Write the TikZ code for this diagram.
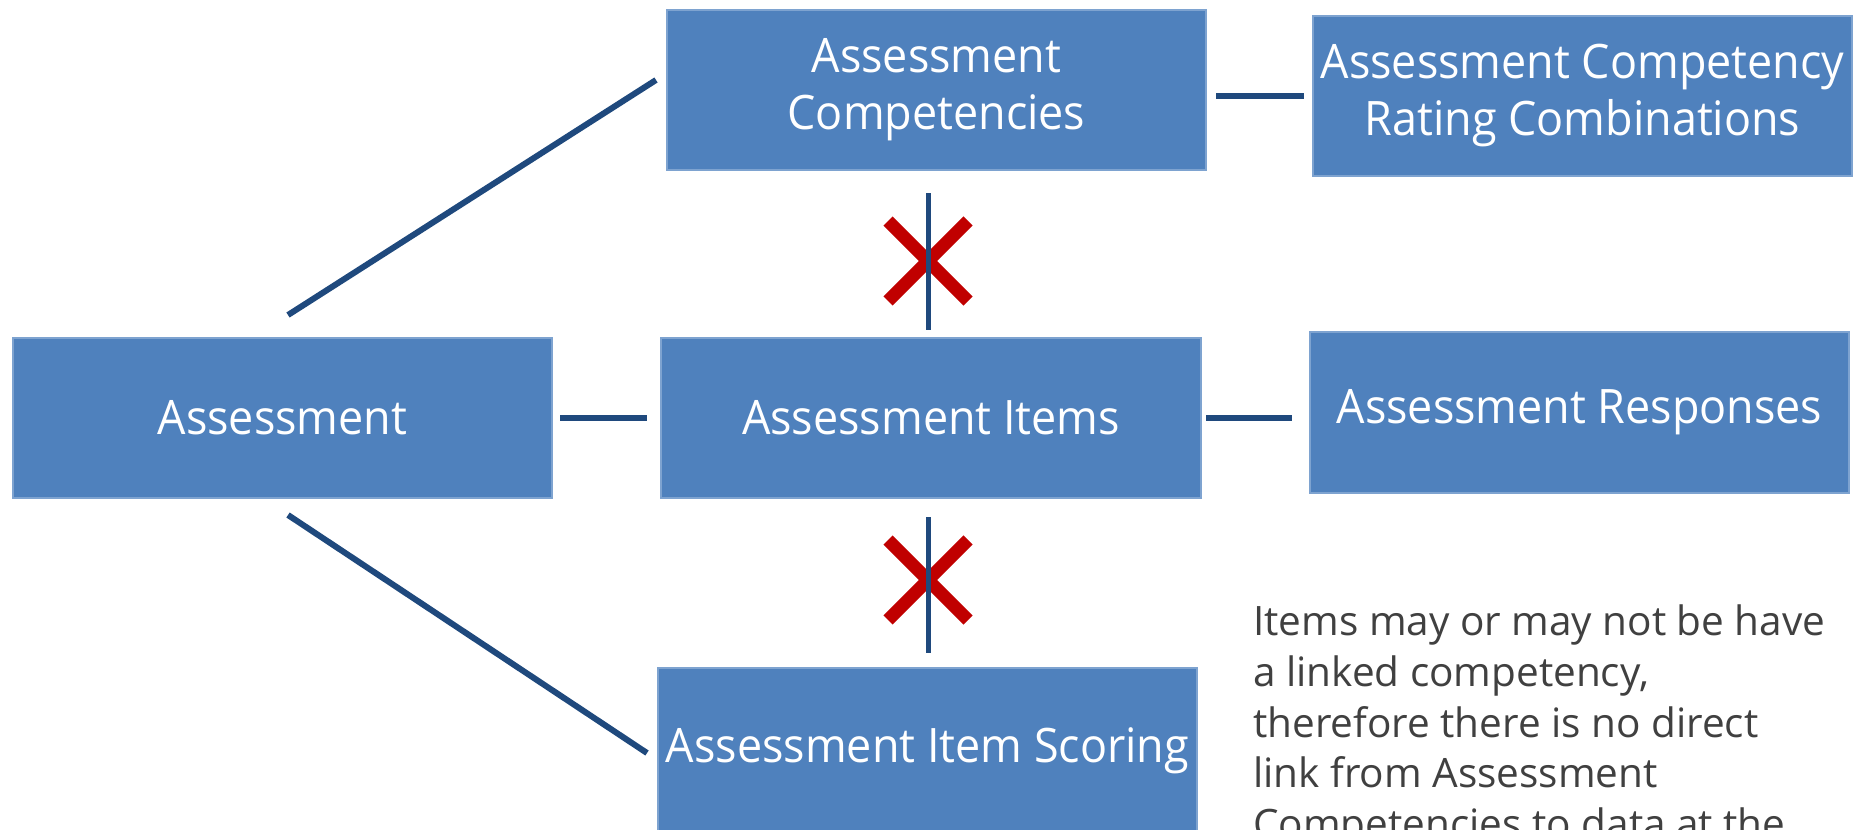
\documentclass[tikz,border=0pt]{standalone}
\usepackage{fontspec}
\setmainfont{Open Sans}
\newfontfamily\boxfont[FakeStretch=0.945]{Open Sans}
\usetikzlibrary{calc}
\definecolor{boxfill}{HTML}{4F81BD}
\definecolor{boxedge}{HTML}{7EA3D0}
\definecolor{linkblue}{HTML}{1F497D}
\definecolor{xred}{HTML}{C00000}
\definecolor{notegray}{HTML}{404040}
\tikzset{
  entity/.style={draw=boxedge, fill=boxfill, line width=1.5pt, text=white,
    font=\boxfont\fontsize{47.5}{57}\selectfont, align=center, inner sep=0pt,
    minimum width=539pt, minimum height=160pt},
  link/.style={draw=linkblue, line width=6pt},
  vlink/.style={draw=linkblue, line width=5pt},
  xmark/.style={draw=xred, line width=13pt},
  note/.style={anchor=base west, text=notegray, inner sep=0pt,
    font=\fontsize{40.5}{50}\selectfont}
}
\begin{document}
\begin{tikzpicture}[x=1pt,y=-1pt]
\useasboundingbox (0,0) rectangle (1864,830);
\clip (0,0) rectangle (1864,830);
% boxes
\node[entity] (A) at (282.5,418) {Assessment};
\node[entity] (AC) at (936.5,90) {Assessment\\Competencies};
\node[entity] (ACRC) at (1582.5,96) {Assessment Competency\\Rating Combinations};
\node[entity, minimum width=540pt] (AI) at (931,418) {Assessment Items};
\node[entity, minimum height=161pt] (AR) at (1579.5,412.5) {Assessment Responses};
\node[entity, minimum height=166pt] (AIS) at (927.5,751) {Assessment Item Scoring};
% connector end points
\coordinate (u1) at (288,315); \coordinate (u2) at (656,80);
\coordinate (l1) at (288,515); \coordinate (l2) at (647,753);
\coordinate (h1a) at (1216,96); \coordinate (h1b) at (1304,96);
\coordinate (h2a) at (560,418); \coordinate (h2b) at (647,418);
\coordinate (h3a) at (1206,418); \coordinate (h3b) at (1292,418);
\coordinate (v1a) at (928,193); \coordinate (v1b) at (928,330);
\coordinate (v2a) at (928,517); \coordinate (v2b) at (928,653);
\coordinate (x1) at (928,261); \coordinate (x2) at (928,580);
% connectors
\draw[link] (u1) -- (u2);
\draw[link] (l1) -- (l2);
\draw[link] (h1a) -- (h1b);
\draw[link] (h2a) -- (h2b);
\draw[link] (h3a) -- (h3b);
% crossed-out links
\draw[xmark] ($(x1)+(-40,-40)$) -- ($(x1)+(40,40)$);
\draw[xmark] ($(x1)+(-40,40)$) -- ($(x1)+(40,-40)$);
\draw[vlink] (v1a) -- (v1b);
\draw[xmark] ($(x2)+(-40,-40)$) -- ($(x2)+(40,40)$);
\draw[xmark] ($(x2)+(-40,40)$) -- ($(x2)+(40,-40)$);
\draw[vlink] (v2a) -- (v2b);
% note
\node[note] (n1) at (1253,635) {Items may or may not be have};
\node[note] (n2) at (1253,686) {a linked competency,};
\node[note] (n3) at (1253,737) {therefore there is no direct};
\node[note] (n4) at (1253,787) {link from Assessment};
\node[note] (n5) at (1253,838) {Competencies to data at the};
\end{tikzpicture}
\end{document}
